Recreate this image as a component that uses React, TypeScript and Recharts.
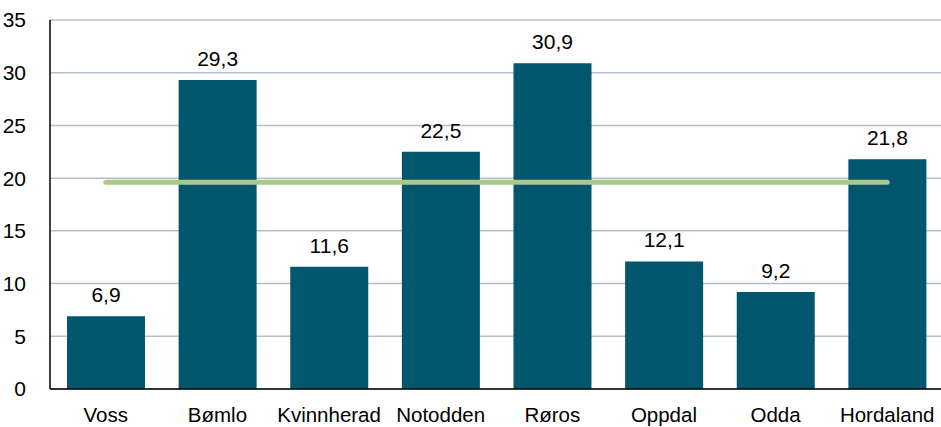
import { Bar, CartesianGrid, ComposedChart, LabelList, Line, XAxis, YAxis } from "recharts";

const places = ["Voss", "Bømlo", "Kvinnherad", "Notodden", "Røros", "Oppdal", "Odda", "Hordaland"];
const values = [6.9, 29.3, 11.6, 22.5, 30.9, 12.1, 9.2, 21.8];
const average = [19.6, 19.6, 19.6, 19.6, 19.6, 19.6, 19.6, 19.6];
const yTicks = [0, 5, 10, 15, 20, 25, 30, 35];

const data = places.map((place, i) => ({ place, value: values[i], avg: average[i] }));

const font = "'Liberation Sans', Arial, sans-serif";

export default function App() {
  return (
    <div style={{ position: "absolute", left: 0, top: 0, fontFamily: font }}>
      <ComposedChart width={943} height={427} data={data} margin={{ top: 20, right: 0, bottom: 0, left: 0 }} barCategoryGap="15%">
        <CartesianGrid vertical={false} stroke="#b3c0ca" strokeWidth={1.5} />
        <XAxis
          dataKey="place"
          height={38}
          tickLine={false}
          axisLine={{ stroke: "#000", strokeWidth: 1.5 }}
          tick={{ fill: "#000", fontSize: 20.5, fontFamily: font }}
          tickMargin={12}
          interval={0}
        />
        <YAxis
          width={50}
          domain={[0, 35]}
          ticks={yTicks}
          tickLine={false}
          axisLine={{ stroke: "#000", strokeWidth: 1.5 }}
          tick={{ fill: "#000", fontSize: 21, fontFamily: font }}
          tickMargin={18}
        />
        <Bar dataKey="value" fill="#02566e" barSize={78} isAnimationActive={false}>
          <LabelList
            dataKey="value"
            position="top"
            offset={14}
            formatter={(v: number) => v.toFixed(1).replace(".", ",")}
            style={{ fill: "#000", fontSize: 21, fontFamily: font }}
          />
        </Bar>
        <Line
          dataKey="avg"
          stroke="#a8c98a"
          strokeWidth={5}
          strokeLinecap="round"
          dot={false}
          activeDot={false}
          isAnimationActive={false}
        />
      </ComposedChart>
    </div>
  );
}
